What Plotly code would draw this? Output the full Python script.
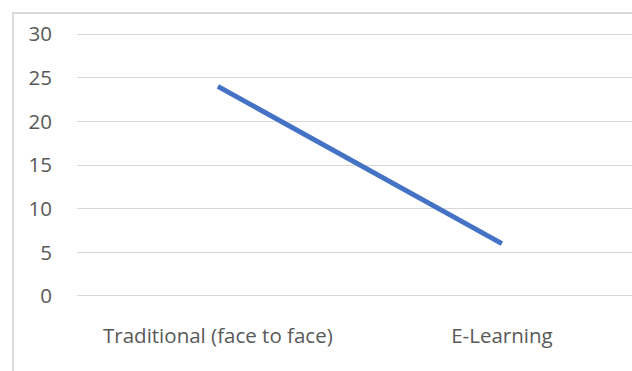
import plotly.graph_objects as go

# Data
categories = ["Traditional (face to face)", "E-Learning"]
values = [24, 6]
y_ticks = [0, 5, 10, 15, 20, 25, 30]

W, H = 632, 371
ML, MR, MT, MB = 77, 0, 32, 73

fig = go.Figure()
fig.add_trace(go.Scatter(
    x=categories,
    y=values,
    mode="lines",
    line=dict(color="#4472C4", width=5),
    showlegend=False,
    hoverinfo="skip",
))

font = dict(family="Open Sans, sans-serif", size=20.5, color="#595959")

fig.update_layout(
    width=W, height=H,
    margin=dict(l=ML, r=MR, t=MT, b=MB, pad=0),
    paper_bgcolor="white",
    plot_bgcolor="white",
    font=font,
    xaxis=dict(
        type="category",
        range=[-0.496, 1.458],
        showgrid=False,
        zeroline=False,
        showline=False,
        ticks="",
        ticklabelstandoff=23,
        tickfont=font,
    ),
    yaxis=dict(
        # small padding so the 0 and 30 gridlines are drawn inside the plot
        range=[-0.23, 30.23],
        tickvals=y_ticks,
        showgrid=True,
        gridcolor="#D9D9D9",
        gridwidth=1.3,
        zeroline=False,
        showline=False,
        ticks="",
        ticklabelstandoff=24,
        tickfont=font,
    ),
)

# Outer chart border (runs past the right and bottom edges of the page)
pw = W - ML - MR
ph = H - MT - MB
fig.add_shape(
    type="rect",
    xref="paper", yref="paper",
    x0=(13 - ML) / pw, x1=1.05,
    y0=-0.2 - MB / ph, y1=1 + (MT - 13) / ph,
    line=dict(color="#D9D9D9", width=1.8),
    fillcolor="rgba(0,0,0,0)",
    layer="below",
)

fig.write_html("out.html")
